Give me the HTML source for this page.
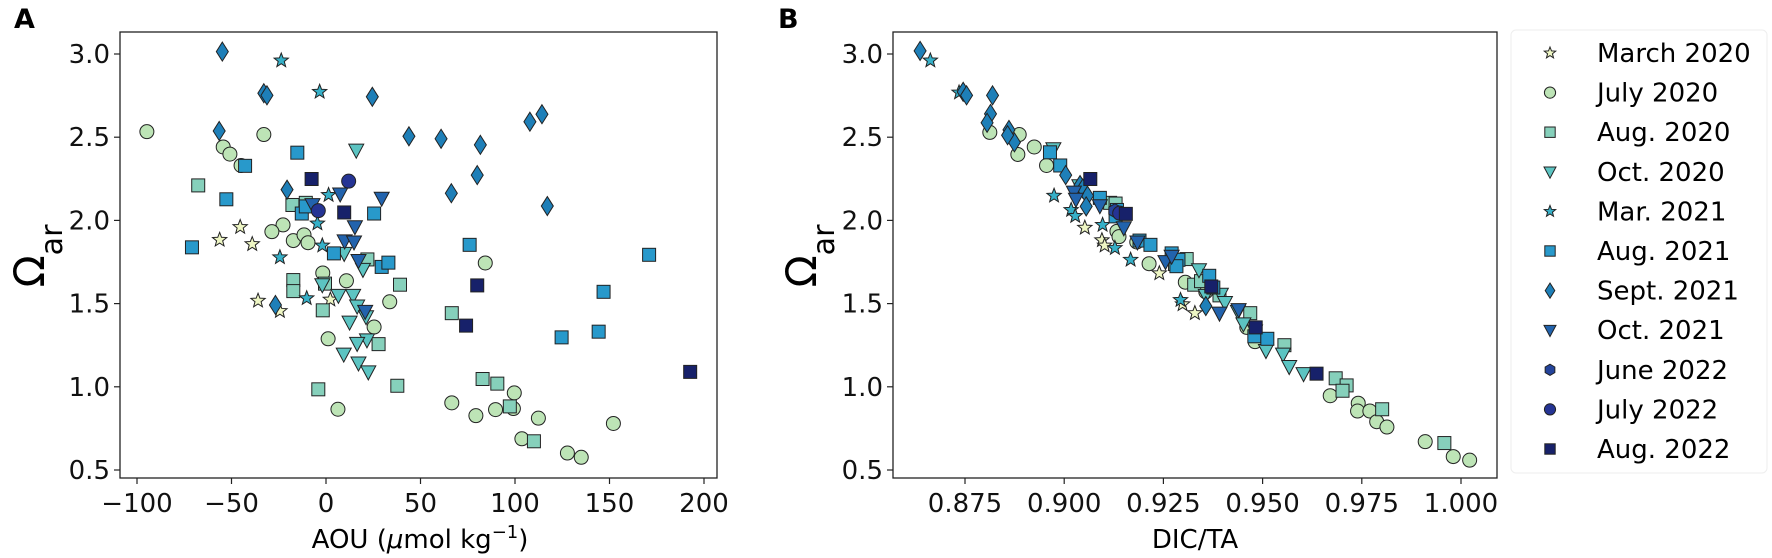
<!DOCTYPE html>
<html><head><meta charset="utf-8"><style>
html,body{margin:0;padding:0;background:#fff;}
svg{display:block;font-family:"DejaVu Sans","Liberation Sans",sans-serif;}
</style></head><body>
<svg id="s" width="1772" height="558" viewBox="0 0 1772 558" xmlns="http://www.w3.org/2000/svg">
<rect width="1772" height="558" fill="#fff"/>
<text x="14" y="28" font-size="27" font-weight="bold">A</text>
<text x="778" y="28" font-size="27" font-weight="bold">B</text>
<g id="pa"></g><g id="pb"></g>
<rect x="120" y="32" width="597" height="446" fill="none" stroke="#222" stroke-width="1.3"/>
<rect x="893" y="32" width="604" height="446" fill="none" stroke="#222" stroke-width="1.3"/>
<g id="ax" font-size="26" fill="#111"></g>
<text x="420" y="548" font-size="26" text-anchor="middle">AOU (<tspan font-style="italic">μ</tspan>mol kg<tspan baseline-shift="super" font-size="18">−1</tspan>)</text>
<text x="1195" y="548" font-size="26" text-anchor="middle">DIC/TA</text>
<text transform="translate(44,256) rotate(-90)" font-size="42" text-anchor="middle">Ω<tspan font-size="30" baseline-shift="sub">ar</tspan></text>
<text transform="translate(816,256) rotate(-90)" font-size="42" text-anchor="middle">Ω<tspan font-size="30" baseline-shift="sub">ar</tspan></text>
<rect x="1511" y="30" width="256" height="443" rx="5" fill="#fff" stroke="#eee" stroke-width="1"/>
<g id="lg" font-size="26"></g>
</svg>
<script>
var NS="http://www.w3.org/2000/svg";
function el(p,t,a){var e=document.createElementNS(NS,t);for(var k in a)e.setAttribute(k,a[k]);p.appendChild(e);return e;}
var C={m20:"#eef6c4",j20:"#bde4b6",a20:"#86d0bb",o20:"#5cc4c2",m21:"#36b0c8",a21:"#2899cb",s21:"#1e7fb8",o21:"#2263ad",jn22:"#24449b",jl22:"#253494",a22:"#17216a"};
var SH={m20:"star",j20:"circ",a20:"sq",o20:"tri",m21:"star",a21:"sq",s21:"dia",o21:"tri",jn22:"hex",jl22:"circ",a22:"sq"};
function mk(p,type,x,y,col,s){s=s||1;var a={fill:col,stroke:"#222","stroke-width":1};
 if(type=="circ"){a.cx=x;a.cy=y;a.r=7*s;el(p,"circle",a);}
 else if(type=="sq"){var h=6.5*s;a.x=x-h;a.y=y-h;a.width=2*h;a.height=2*h;el(p,"rect",a);}
 else if(type=="tri"){var w=7.5*s;a.points=(x-w)+","+(y-6*s)+" "+(x+w)+","+(y-6*s)+" "+x+","+(y+8*s);el(p,"polygon",a);}
 else if(type=="dia"){a.points=x+","+(y-9.5*s)+" "+(x+6*s)+","+y+" "+x+","+(y+9.5*s)+" "+(x-6*s)+","+y;el(p,"polygon",a);}
 else if(type=="hex"){var pts=[];for(var i=0;i<6;i++){var an=Math.PI/6+i*Math.PI/3;pts.push((x+7*s*Math.cos(an))+","+(y+7*s*Math.sin(an)));}a.points=pts.join(" ");el(p,"polygon",a);}
 else if(type=="star"){var pts=[];for(var i=0;i<10;i++){var r=(i%2?3.2:7.5)*s,an=-Math.PI/2+i*Math.PI/5;pts.push((x+r*Math.cos(an))+","+(y+r*Math.sin(an)));}a.points=pts.join(" ");el(p,"polygon",a);}
}
var A={
m20:[[538,638],[492,674],[565,686],[578,845],[627,874],[740,842]],
j20:[[329,370],[591,378],[500,413],[515,433],[540,465],[634,632],[609,651],[657,676],[681,660],[690,682],[723,767],[776,789],[873,848],[838,919],[735,952],[757,1150],[1087,739],[1012,1132],[1066,1168],[1110,1151],[1152,1104],[1150,1148],[1206,1175],[1374,1190],[1169,1233],[1271,1273],[1302,1285]],
a20:[[444,521],[655,576],[685,570],[657,787],[657,818],[728,797],[723,872],[823,729],[896,800],[848,967],[713,1094],[890,1084],[1012,880],[1081,1065],[1114,1078],[1142,1142],[1196,1240]],
o20:[[798,422],[771,712],[722,800],[758,830],[791,830],[800,860],[813,757],[783,905],[820,890],[822,955],[800,965],[770,995],[803,1020],[825,1045]],
m21:[[630,170],[716,258],[736,548],[711,628],[722,690],[627,723],[687,838]],
a21:[[666,429],[549,466],[507,560],[430,695],[676,600],[685,580],[748,712],[838,600],[855,750],[870,738],[1052,688],[1454,716],[1352,820],[1258,948],[1341,932]],
s21:[[498,145],[591,262],[598,268],[834,272],[491,368],[643,533],[916,383],[988,390],[1076,407],[1187,342],[1214,321],[1069,492],[1011,543],[1226,579],[617,857]],
o21:[[700,575],[762,545],[855,557],[795,637],[772,677],[793,680],[803,732],[818,875]],
jn22:[],
jl22:[[781,509],[713,592]],
a22:[[698,503],[771,597],[1069,802],[1044,915],[1546,1045]]};
var B={
s21:[[322,143],[385,258],[390,268],[428,268],[425,320],[420,345],[452,365],[460,400],[450,380],[535,492],[556,520],[560,530],[567,550],[565,580],[740,860]],
m21:[[337,170],[379,260],[518,550],[543,590],[549,607],[589,632],[607,697],[630,730],[703,843]],
m20:[[563,640],[588,675],[592,690],[672,768],[724,880],[706,855]],
j20:[[424,372],[467,378],[489,413],[465,434],[507,465],[610,650],[613,665],[639,680],[657,741],[710,793],[740,820],[800,920],[812,960],[922,1112],[963,1133],[962,1155],[980,1155],[990,1185],[1005,1200],[1061,1241],[1102,1283],[1126,1293]],
a20:[[600,570],[608,572],[712,728],[695,742],[723,800],[733,790],[760,830],[805,880],[855,970],[930,1063],[946,1083],[940,1098],[998,1150],[1089,1245]],
o20:[[517,418],[555,522],[730,758],[740,830],[762,827],[768,850],[787,875],[795,910],[812,930],[828,985],[853,995],[862,1030],[883,1050]],
a21:[[512,428],[527,465],[585,556],[610,590],[608,608],[643,676],[659,688],[690,712],[700,730],[697,748],[745,775],[751,808],[811,945],[830,952]],
o21:[[547,540],[550,560],[585,578],[620,640],[640,680],[681,735],[690,720],[760,880],[788,870]],
jn22:[[607,592]],
jl22:[[614,599]],
a22:[[571,503],[623,601],[748,805],[813,920],[902,1050]]};
var pa=document.getElementById("pa"),pb=document.getElementById("pb");
var order=["m20","j20","a20","o20","m21","a21","s21","o21","jn22","jl22","a22"];
order.forEach(function(k){(A[k]||[]).forEach(function(p){mk(pa,SH[k],p[0]/2.24,p[1]/2.81,C[k]);});
 (B[k]||[]).forEach(function(p){mk(pb,SH[k],700+p[0]/1.463,p[1]/2.81,C[k]);});});
var ax=document.getElementById("ax");
function yv(v){return 470-(v-0.5)*166.4;}
[0.5,1.0,1.5,2.0,2.5,3.0].forEach(function(v){var y=yv(v);
 [[120,"a"],[893,"b"]].forEach(function(o){el(ax,"line",{x1:o[0]-6,x2:o[0],y1:y,y2:y,stroke:"#222","stroke-width":1.2});
 var t=el(ax,"text",{x:o[0]-10,y:y+9,"text-anchor":"end"});t.textContent=v.toFixed(1);});});
[-100,-50,0,50,100,150,200].forEach(function(v){var x=326+1.89*v;
 el(ax,"line",{x1:x,x2:x,y1:478,y2:484,stroke:"#222","stroke-width":1.2});
 var t=el(ax,"text",{x:x,y:512,"text-anchor":"middle"});t.textContent=(v<0?"−"+(-v):""+v);});
[0.875,0.9,0.925,0.95,0.975,1.0].forEach(function(v,i){var x=965+i*99.2;
 el(ax,"line",{x1:x,x2:x,y1:478,y2:484,stroke:"#222","stroke-width":1.2});
 var t=el(ax,"text",{x:x,y:512,"text-anchor":"middle"});t.textContent=v.toFixed(3);});
var lg=document.getElementById("lg");
var names=["March 2020","July 2020","Aug. 2020","Oct. 2020","Mar. 2021","Aug. 2021","Sept. 2021","Oct. 2021","June 2022","July 2022","Aug. 2022"];
order.forEach(function(k,i){var y=53+i*39.6;mk(lg,SH[k],1550,y,C[k],0.8);
 var t=el(lg,"text",{x:1597,y:y+9});t.textContent=names[i];});
</script>
</body></html>
